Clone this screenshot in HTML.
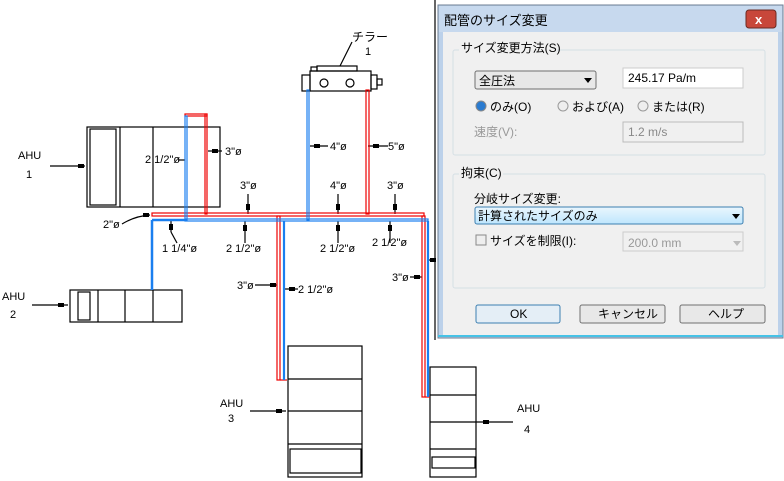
<!DOCTYPE html>
<html><head><meta charset="utf-8"><style>
html,body{margin:0;padding:0;background:#fff;}
svg{display:block}
.t{font-family:"Liberation Sans",sans-serif;font-size:11px;fill:#000}
.j{font-family:"Liberation Sans","Noto Sans CJK JP",sans-serif;font-size:12px;fill:#000}
</style></head><body>
<svg width="784" height="481" viewBox="0 0 784 481" xmlns="http://www.w3.org/2000/svg">
<rect width="784" height="481" fill="#fff"/>
<g stroke="#000" fill="none" stroke-width="1.2">
<!-- AHU1 -->
<rect x="87" y="127" width="133" height="80"/>
<rect x="90" y="129" width="26" height="76"/>
<line x1="120" y1="127" x2="120" y2="207"/>
<line x1="153" y1="127" x2="153" y2="207"/>
<line x1="50" y1="166" x2="85" y2="166"/>
<!-- AHU2 -->
<rect x="70" y="290" width="112" height="32"/>
<rect x="78" y="292" width="12" height="28"/>
<line x1="98" y1="290" x2="98" y2="322"/>
<line x1="125" y1="290" x2="125" y2="322"/>
<line x1="153" y1="290" x2="153" y2="322"/>
<line x1="32" y1="305" x2="68" y2="305"/>
<!-- AHU3 -->
<rect x="288" y="346" width="74" height="131"/>
<line x1="288" y1="379" x2="362" y2="379"/>
<line x1="288" y1="411" x2="362" y2="411"/>
<line x1="288" y1="444" x2="362" y2="444"/>
<rect x="290" y="449" width="71" height="24"/>
<line x1="250" y1="411" x2="286" y2="411"/>
<!-- AHU4 -->
<rect x="430" y="367" width="46" height="110"/>
<line x1="430" y1="395" x2="476" y2="395"/>
<line x1="430" y1="422" x2="476" y2="422"/>
<line x1="430" y1="449" x2="476" y2="449"/>
<rect x="432" y="457" width="43" height="11"/>
<line x1="476" y1="422" x2="513" y2="422"/>
<!-- chiller -->
<rect x="310" y="71" width="61" height="20"/>
<rect x="302" y="75" width="8" height="16"/>
<rect x="371" y="75" width="6" height="14"/>
<rect x="377" y="79" width="5" height="6"/>
<rect x="317" y="66" width="40" height="5"/>
<rect x="311" y="67" width="6" height="4"/>
<circle cx="324" cy="83" r="4"/><circle cx="350" cy="83" r="4"/>
<line x1="340" y1="66" x2="352" y2="42"/>
<line x1="435" y1="0" x2="435" y2="340"/>
<!-- leaders -->
<line x1="208" y1="151" x2="222" y2="151"/>
<line x1="178" y1="160" x2="185" y2="160"/>
<line x1="310" y1="146" x2="328" y2="146"/>
<line x1="368" y1="146" x2="388" y2="146"/>
<line x1="248" y1="194" x2="248" y2="214"/>
<line x1="338" y1="194" x2="338" y2="214"/>
<line x1="395" y1="194" x2="395" y2="214"/>
<line x1="245" y1="221" x2="245" y2="243"/>
<line x1="338" y1="221" x2="338" y2="243"/>
<line x1="390" y1="221" x2="390" y2="243"/>
<line x1="171" y1="221" x2="171" y2="232"/>
<line x1="171" y1="232" x2="177" y2="243"/>
<path d="M122 224 Q135 216 150 215"/>
<line x1="255" y1="285" x2="277" y2="285"/>
<line x1="284" y1="289" x2="298" y2="289"/>
<line x1="410" y1="277" x2="422" y2="277"/>
<line x1="428" y1="260" x2="435" y2="260"/>
</g>
<g fill="#000">
<rect x="78" y="164" width="6" height="4"/><rect x="58" y="303" width="6" height="4"/>
<rect x="276" y="409" width="6" height="4"/><rect x="483" y="420" width="6" height="4"/>
<rect x="212" y="149" width="6" height="4"/><rect x="314" y="144" width="6" height="4"/><rect x="373" y="144" width="6" height="4"/>
<rect x="246" y="204" width="4" height="6"/><rect x="336" y="204" width="4" height="6"/><rect x="393" y="204" width="4" height="6"/>
<rect x="243" y="225" width="4" height="6"/><rect x="336" y="225" width="4" height="6"/><rect x="388" y="225" width="4" height="6"/>
<rect x="169" y="224" width="4" height="6"/><rect x="143" y="213" width="6" height="4"/>
<rect x="270" y="283" width="6" height="4"/><rect x="289" y="287" width="6" height="4"/><rect x="414" y="275" width="6" height="4"/><rect x="430" y="258" width="6" height="4"/>
</g>
<!-- pipes -->
<g fill="none" stroke-width="1.2">
<g stroke="#e00">
<rect x="185" y="114" width="22" height="2"/>
<rect x="205" y="114" width="2" height="100"/>
<rect x="152" y="213" width="272" height="3"/>
<rect x="366" y="90" width="3" height="124"/>
<rect x="277" y="216" width="3" height="164"/>
<rect x="422" y="216" width="3" height="181"/>
<line x1="280" y1="380" x2="287" y2="380"/>
<line x1="425" y1="397" x2="430" y2="397"/>
</g>
<g stroke="#1a7fef">
<rect x="185" y="116" width="2" height="104"/>
<rect x="307" y="90" width="2" height="130"/>
<rect x="185" y="219" width="243" height="2"/>
<line x1="152" y1="220" x2="185" y2="220" stroke-width="2.5"/>
<line x1="152" y1="220" x2="152" y2="290" stroke-width="2.5"/>
<line x1="284" y1="221" x2="284" y2="380" stroke-width="2.2"/>
<line x1="428" y1="221" x2="428" y2="397" stroke-width="2.2"/>
</g>
</g>
<g class="t">
<text x="18" y="159">AHU</text><text x="26" y="178">1</text>
<text x="2" y="300">AHU</text><text x="10" y="318">2</text>
<text x="220" y="407">AHU</text><text x="228" y="422">3</text>
<text x="517" y="412">AHU</text><text x="524" y="433">4</text>
<text x="145" y="163">2 1/2"ø</text>
<text x="225" y="155">3"ø</text>
<text x="330" y="150">4"ø</text>
<text x="388" y="150">5"ø</text>
<text x="240" y="189">3"ø</text><text x="330" y="189">4"ø</text><text x="387" y="189">3"ø</text>
<text x="103" y="228">2"ø</text>
<text x="162" y="252">1 1/4"ø</text><text x="226" y="252">2 1/2"ø</text><text x="320" y="252">2 1/2"ø</text><text x="372" y="246">2 1/2"ø</text>
<text x="237" y="289">3"ø</text><text x="298" y="293">2 1/2"ø</text><text x="392" y="281">3"ø</text>
</g>
<text class="j" x="352" y="41">チラー</text><text class="t" x="365" y="55">1</text>
<!-- dialog -->
<rect x="438" y="5" width="345" height="333" fill="#bcd1ea" stroke="#6e7e93"/>
<rect x="439" y="6" width="343" height="26" fill="#c7d9ee"/>
<text class="j" x="444" y="25" style="font-size:13px">配管のサイズ変更</text>
<rect x="746" y="10" width="30" height="18" rx="3" fill="#c8473a" stroke="#6b2a22"/>
<text x="755" y="24" style="font-family:'Liberation Sans';font-size:13px;font-weight:bold;fill:#fff">x</text>
<rect x="443" y="32" width="335" height="303" fill="#f0f0f0"/>
<line x1="438" y1="336" x2="783" y2="336" stroke="#46c2e6" stroke-width="2"/>
<rect x="453" y="50" width="312" height="105" rx="2" fill="none" stroke="#d5dfe5"/>
<rect x="459" y="40" width="98" height="14" fill="#f0f0f0"/>
<text class="j" x="461" y="52">サイズ変更方法(S)</text>
<rect x="475" y="71" width="121" height="18" rx="2" fill="#e8e8e8" stroke="#707070"/>
<text class="j" x="479" y="85">全圧法</text><path d="M584 78 L592 78 L588 83Z"/>
<rect x="623" y="68" width="120" height="20" fill="#fff" stroke="#ccc"/>
<text class="t" x="628" y="82" style="font-size:12px">245.17 Pa/m</text>
<circle cx="481" cy="106" r="5" fill="#2a7bd0" stroke="#888"/>
<text class="j" x="490" y="111">のみ(O)</text>
<circle cx="563" cy="106" r="5" fill="#eee" stroke="#999"/><text class="j" x="572" y="111">および(A)</text>
<circle cx="643" cy="106" r="5" fill="#eee" stroke="#999"/><text class="j" x="652" y="111">または(R)</text>
<text class="j" x="474" y="136" style="fill:#999">速度(V):</text>
<rect x="623" y="122" width="120" height="20" fill="#f0f0f0" stroke="#bbb"/>
<text class="t" x="628" y="136" style="font-size:12px;fill:#888">1.2 m/s</text>
<rect x="453" y="174" width="312" height="114" rx="2" fill="none" stroke="#d5dfe5"/>
<rect x="459" y="166" width="44" height="14" fill="#f0f0f0"/>
<text class="j" x="461" y="177">拘束(C)</text>
<text class="j" x="474" y="203">分岐サイズ変更:</text>
<defs><linearGradient id="g" x1="0" y1="0" x2="0" y2="1"><stop offset="0" stop-color="#eaf6fd"/><stop offset="1" stop-color="#bee6fd"/></linearGradient></defs>
<rect x="475" y="207" width="268" height="17" rx="2" fill="url(#g)" stroke="#3c7fb1"/>
<text class="j" x="478" y="220">計算されたサイズのみ</text><path d="M732 214 L740 214 L736 219Z"/>
<rect x="476" y="235" width="10" height="10" fill="#eee" stroke="#888"/>
<text class="j" x="490" y="245">サイズを制限(I):</text>
<rect x="623" y="232" width="120" height="19" fill="#f0f0f0" stroke="#ccc"/>
<text class="t" x="628" y="247" style="font-size:12px;fill:#999">200.0 mm</text><path d="M733 241 L741 241 L737 246Z" fill="#bbb"/>
<rect x="476" y="305" width="84" height="18" rx="2" fill="#e4eef6" stroke="#3c7fb1"/>
<text class="t" x="510" y="318" style="font-size:12px">OK</text>
<rect x="580" y="305" width="85" height="18" rx="2" fill="#e8e8e8" stroke="#707070"/>
<text class="j" x="598" y="318">キャンセル</text>
<rect x="680" y="305" width="85" height="18" rx="2" fill="#e8e8e8" stroke="#707070"/>
<text class="j" x="708" y="318">ヘルプ</text>
</svg>
</body></html>
